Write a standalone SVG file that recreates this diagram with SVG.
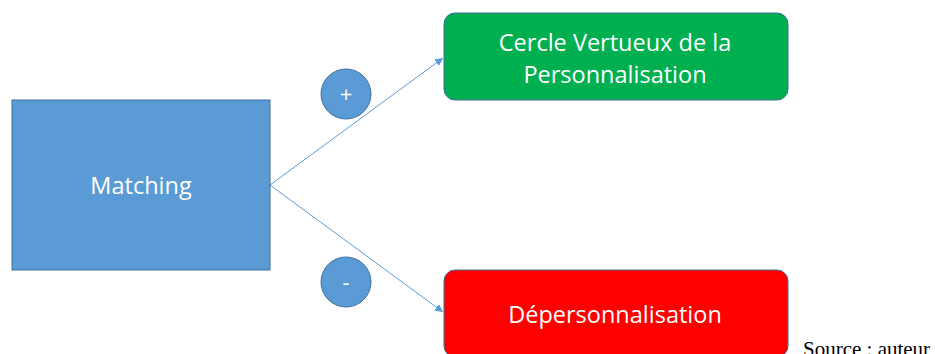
<svg xmlns="http://www.w3.org/2000/svg" width="935" height="354" viewBox="0 0 935 354">
  <defs>
    <marker id="arrow" viewBox="0 0 10 10" refX="10" refY="5" markerWidth="8" markerHeight="8" markerUnits="userSpaceOnUse" orient="auto">
      <path d="M0,0 L10,5 L0,10 z" fill="#5B9BD5"/>
    </marker>
    <style>
      .box { stroke: #41719C; stroke-width: 1; }
      .blue { fill: #5B9BD5; }
      .lbl { font-family: "Open Sans", "Noto Sans", "Liberation Sans", sans-serif; fill: #ffffff; text-anchor: middle; }
      .conn { stroke: #5B9BD5; stroke-width: 1; fill: none; marker-end: url(#arrow); }
    </style>
  </defs>
  <rect width="935" height="354" fill="#ffffff"/>

  <g id="connectors">
    <line class="conn" x1="270" y1="185" x2="443" y2="58"/>
    <line class="conn" x1="270" y1="185" x2="443" y2="312"/>
  </g>

  <g id="matching">
    <rect class="box blue" x="12" y="100" width="258" height="170"/>
    <text class="lbl" x="141" y="194" font-size="23.5">Matching</text>
  </g>

  <g id="plus">
    <circle class="box blue" cx="346" cy="94" r="25"/>
    <text class="lbl" x="346" y="102" font-size="22">+</text>
  </g>

  <g id="minus">
    <circle class="box blue" cx="346" cy="282" r="25"/>
    <text class="lbl" x="346" y="290" font-size="22">-</text>
  </g>

  <g id="cercle">
    <rect class="box" x="444" y="13" width="344" height="87" rx="11" fill="#00B050"/>
    <text class="lbl" x="615" y="51" font-size="23.5">Cercle Vertueux de la</text>
    <text class="lbl" x="615" y="83" font-size="23.5">Personnalisation</text>
  </g>

  <g id="depersonnalisation">
    <rect class="box" x="444" y="270" width="344" height="87" rx="11" fill="#FF0000"/>
    <text class="lbl" x="615" y="323" font-size="23.5">Dépersonnalisation</text>
  </g>

  <text x="803" y="356" font-family="'Liberation Serif', serif" font-size="21" fill="#000000">Source : auteur</text>
</svg>
